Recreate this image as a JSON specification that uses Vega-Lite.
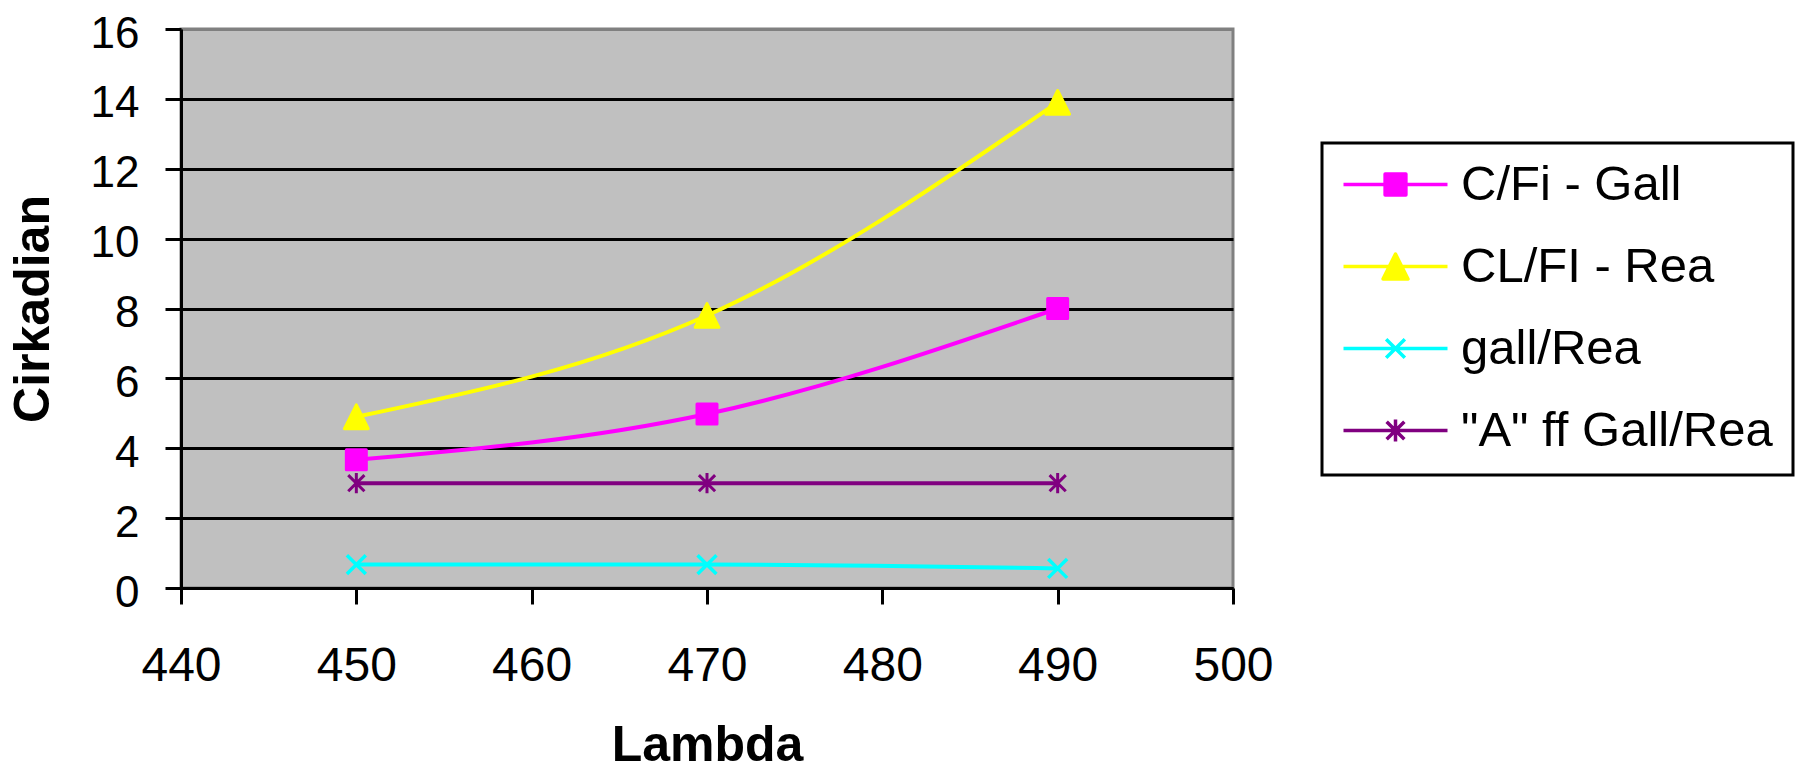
{
  "$schema": "https://vega.github.io/schema/vega-lite/v6.json",
  "width": 1052,
  "height": 559,
  "autosize": {"type": "none"},
  "padding": {"left": 181, "top": 29, "right": 565, "bottom": 185},
  "background": "white",
  "config": {
    "font": "Liberation Sans",
    "view": {"fill": "#C0C0C0", "stroke": "#808080", "strokeWidth": 3},
    "axis": {
      "domainColor": "black",
      "domainWidth": 3,
      "tickColor": "black",
      "tickWidth": 3,
      "tickSize": 16,
      "labelColor": "black",
      "labelFont": "Liberation Sans",
      "titleColor": "black",
      "titleFont": "Liberation Sans",
      "titleFontWeight": "bold",
      "titleFontSize": 50,
      "labelOverlap": false,
      "labelFlush": false,
      "labelBound": false
    },
    "legend": {
      "title": null,
      "orient": "none",
      "legendX": 1141,
      "legendY": 114,
      "direction": "vertical",
      "padding": 19.5,
      "strokeColor": "black",
      "strokeWidth": 3,
      "fillColor": "white",
      "cornerRadius": 0,
      "symbolSize": 10816,
      "symbolStrokeWidth": 3,
      "labelFont": "Liberation Sans",
      "labelFontSize": 49,
      "labelColor": "black",
      "labelOffset": 11.5,
      "labelLimit": 600,
      "clipHeight": 44,
      "rowPadding": 33
    }
  },
  "data": {
    "values": [
      {"series": "C/Fi - Gall", "lambda": 450, "value": 3.67},
      {"series": "C/Fi - Gall", "lambda": 470, "value": 4.98},
      {"series": "C/Fi - Gall", "lambda": 490, "value": 8.0},
      {"series": "CL/FI - Rea", "lambda": 450, "value": 4.9},
      {"series": "CL/FI - Rea", "lambda": 470, "value": 7.8},
      {"series": "CL/FI - Rea", "lambda": 490, "value": 13.9},
      {"series": "gall/Rea", "lambda": 450, "value": 0.67},
      {"series": "gall/Rea", "lambda": 470, "value": 0.67},
      {"series": "gall/Rea", "lambda": 490, "value": 0.56},
      {"series": "\"A\" ff Gall/Rea", "lambda": 450, "value": 3.0},
      {"series": "\"A\" ff Gall/Rea", "lambda": 470, "value": 3.0},
      {"series": "\"A\" ff Gall/Rea", "lambda": 490, "value": 3.0}
    ]
  },
  "encoding": {
    "x": {
      "field": "lambda",
      "type": "quantitative",
      "scale": {"domain": [440, 500], "nice": false, "zero": false},
      "axis": {
        "title": "Lambda",
        "values": [440, 450, 460, 470, 480, 490, 500],
        "grid": false,
        "labelFontSize": 48,
        "labelPadding": 38,
        "titlePadding": 30
      }
    },
    "y": {
      "field": "value",
      "type": "quantitative",
      "scale": {"domain": [0, 16], "nice": false},
      "axis": {
        "title": "Cirkadian",
        "values": [0, 2, 4, 6, 8, 10, 12, 14, 16],
        "grid": true,
        "gridColor": {"condition": {"test": "datum.value === 16", "value": "#808080"}, "value": "black"},
        "gridWidth": 3,
        "labelFontSize": 44,
        "labelPadding": 26,
        "labelOffset": 5,
        "titlePadding": 32
      }
    }
  },
  "layer": [
    {
      "mark": {"type": "line", "interpolate": "monotone", "strokeWidth": 4},
      "encoding": {
        "color": {
          "field": "series",
          "type": "nominal",
          "scale": {
            "domain": ["C/Fi - Gall", "CL/FI - Rea", "gall/Rea", "\"A\" ff Gall/Rea"],
            "range": ["#FF00FF", "#FFFF00", "#00FFFF", "#800080"]
          },
          "legend": {
            "symbolType": "M-1,0H1",
            "encode": {
              "symbols": {
                "update": {
                  "shape": {"signal": "datum.index === 0 ? 'M-1,0H1M-0.2,-0.2H0.2V0.2H-0.2Z' : datum.index === 1 ? 'M-1,0H1M0,-0.24L0.24,0.24H-0.24Z' : datum.index === 2 ? 'M-1,0H1M-0.18,-0.18L0.18,0.18M-0.18,0.18L0.18,-0.18' : 'M-1,0H1M-0.17,-0.17L0.17,0.17M-0.17,0.17L0.17,-0.17M0,-0.21V0.21'"},
                  "fill": {"signal": "datum.index === 0 ? '#FF00FF' : datum.index === 1 ? '#FFFF00' : datum.index === 2 ? '#00FFFF' : '#800080'"},
                  "stroke": {"signal": "datum.index === 0 ? '#FF00FF' : datum.index === 1 ? '#FFFF00' : datum.index === 2 ? '#00FFFF' : '#800080'"},
                  "strokeWidth": {"value": 3.5},
                  "strokeJoin": {"value": "round"},
                  "opacity": {"value": 1}
                }
              }
            }
          }
        }
      }
    },
    {
      "transform": [{"filter": {"field": "series", "equal": "C/Fi - Gall"}}],
      "mark": {"type": "point", "shape": "M-0.74,-0.74H0.74V0.74H-0.74Z", "filled": true, "opacity": 1, "size": 729, "strokeWidth": 3, "strokeJoin": "round", "fill": "#FF00FF", "stroke": "#FF00FF"}
    },
    {
      "transform": [{"filter": {"field": "series", "equal": "CL/FI - Rea"}}],
      "mark": {"type": "point", "shape": "M0,-0.88L0.88,0.88H-0.88Z", "filled": true, "opacity": 1, "size": 729, "strokeWidth": 3, "strokeJoin": "round", "fill": "#FFFF00", "stroke": "#FFFF00"}
    },
    {
      "transform": [{"filter": {"field": "series", "equal": "gall/Rea"}}],
      "mark": {"type": "point", "shape": "M-0.7,-0.7L0.7,0.7M-0.7,0.7L0.7,-0.7", "filled": false, "opacity": 1, "size": 729, "strokeWidth": 3.5, "stroke": "#00FFFF"}
    },
    {
      "transform": [{"filter": {"field": "series", "equal": "\"A\" ff Gall/Rea"}}],
      "mark": {"type": "point", "shape": "M-0.6,-0.6L0.6,0.6M-0.6,0.6L0.6,-0.6M0,-0.75V0.75", "filled": false, "opacity": 1, "size": 729, "strokeWidth": 3, "stroke": "#800080"}
    }
  ]
}
